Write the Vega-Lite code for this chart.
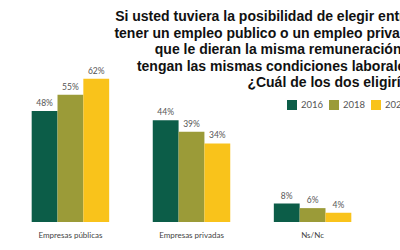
{
  "$schema": "https://vega.github.io/schema/vega-lite/v6.json",
  "width": 383,
  "height": 222,
  "autosize": {"type": "none"},
  "padding": {"left": 0, "top": 0, "right": 17, "bottom": 28},
  "background": "white",
  "title": {
    "text": [
      "Si usted tuviera la posibilidad de elegir entre:",
      "tener un empleo publico o un empleo privado",
      "que le dieran la misma remuneración, y",
      "tengan las mismas condiciones laborales,",
      "¿Cuál de los dos eligiría?"
    ],
    "anchor": "end",
    "align": "right",
    "frame": "group",
    "font": "Liberation Sans",
    "fontSize": 14,
    "fontWeight": "bold",
    "color": "#111111",
    "lineHeight": 16.5,
    "offset": -90,
    "dx": 34
  },
  "data": {
    "values": [
      {"cat": "Empresas públicas", "year": "2016", "value": 0.48},
      {"cat": "Empresas públicas", "year": "2018", "value": 0.55},
      {"cat": "Empresas públicas", "year": "2020", "value": 0.62},
      {"cat": "Empresas privadas", "year": "2016", "value": 0.44},
      {"cat": "Empresas privadas", "year": "2018", "value": 0.39},
      {"cat": "Empresas privadas", "year": "2020", "value": 0.34},
      {"cat": "Ns/Nc", "year": "2016", "value": 0.08},
      {"cat": "Ns/Nc", "year": "2018", "value": 0.06},
      {"cat": "Ns/Nc", "year": "2020", "value": 0.04}
    ]
  },
  "encoding": {
    "x": {
      "field": "cat",
      "type": "nominal",
      "sort": null,
      "scale": {"paddingInner": 0.36, "paddingOuter": 0.2617},
      "axis": {
        "title": null,
        "domain": false,
        "ticks": false,
        "labelAngle": 0,
        "labelFont": "Lato",
        "labelFontSize": 8,
        "labelColor": "#444",
        "labelPadding": 9
      }
    },
    "xOffset": {
      "field": "year",
      "type": "nominal",
      "sort": null,
      "scale": {"paddingInner": 0, "paddingOuter": 0}
    },
    "y": {
      "field": "value",
      "type": "quantitative",
      "scale": {"domain": [0, 0.96], "nice": false},
      "axis": null
    }
  },
  "layer": [
    {
      "mark": {"type": "bar"},
      "encoding": {
        "color": {
          "field": "year",
          "type": "nominal",
          "scale": {
            "domain": ["2016", "2018", "2020"],
            "range": ["#0C5D48", "#9B9B38", "#F9C31B"]
          },
          "legend": {
            "orient": "none",
            "legendX": 287,
            "legendY": 100,
            "direction": "horizontal",
            "title": null,
            "symbolType": "square",
            "symbolSize": 100,
            "symbolStrokeWidth": 0,
            "symbolOpacity": 1,
            "labelFont": "Lato",
            "labelFontSize": 9.5,
            "labelColor": "#555",
            "labelOffset": 4,
            "columnPadding": 5,
            "padding": 0
          }
        }
      }
    },
    {
      "mark": {
        "type": "text",
        "baseline": "bottom",
        "dy": -3,
        "font": "Lato",
        "fontSize": 8.5,
        "color": "#555"
      },
      "encoding": {
        "text": {"field": "value", "type": "quantitative", "format": ".0%"}
      }
    }
  ],
  "config": {
    "view": {"stroke": null},
    "axis": {"grid": false}
  }
}
